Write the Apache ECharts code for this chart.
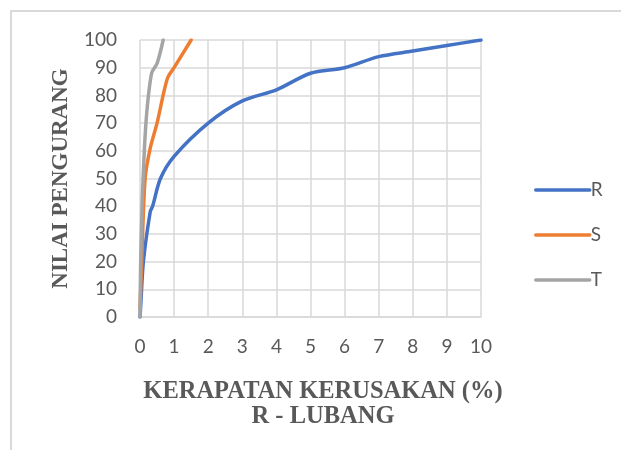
<!DOCTYPE html>
<html>
<head>
<meta charset="utf-8">
<script src="https://cdn.jsdelivr.net/npm/echarts@6/dist/echarts.min.js"></script>
<style>html,body{margin:0;padding:0;background:#fff;}#c{width:621px;height:450px;}</style>
</head>
<body>
<div id="c"></div>
<script>
const seriesNames = ['R', 'S', 'T'];
const dataR = [[0,0],[0.02,4],[0.1,20],[0.3,38],[0.37,40],[0.6,50],[1,58],[2,70],[3,78],[4,82],[5,88],[6,90],[7,94],[8,96],[9,98],[10,100]];
const dataS = [[0,3],[0.05,20],[0.15,50],[0.3,61],[0.5,70],[0.8,86],[1,90],[1.5,100]];
const dataT = [[0,0],[0.02,20],[0.05,35],[0.08,47],[0.18,71],[0.34,88],[0.5,91.5],[0.68,100]];
const xTicks = {min: 0, max: 10, interval: 1};
const yTicks = {min: 0, max: 100, interval: 10};
const xTitle = 'KERAPATAN KERUSAKAN (%)\nR - LUBANG';
const yTitle = 'NILAI PENGURANG';
const colors = ['#4472C4', '#ED7D31', '#A5A5A5'];

const chart = echarts.init(document.getElementById('c'), null, {renderer: 'canvas'});
const tickFont = {fontFamily: 'Lato, "Open Sans", sans-serif', fontSize: 19, color: '#595959'};
const titleFont = {fontFamily: '"Liberation Serif", "Times New Roman", serif', fontWeight: 'bold', fontSize: 23, color: '#595959'};
const datas = [dataR, dataS, dataT];
chart.setOption({
  animation: false,
  color: colors,
  grid: {left: 140, right: 140, top: 40, bottom: 133},
  graphic: [
    {type: 'rect', z: 100, silent: true, shape: {x: 11, y: 11, width: 640, height: 470},
     style: {fill: 'transparent', stroke: '#d9d9d9', lineWidth: 2}},
    {type: 'text', x: 323, y: 379, silent: true,
     style: {text: xTitle, align: 'center', verticalAlign: 'top', fontFamily: titleFont.fontFamily, fontWeight: 'bold', fontSize: 24.5, lineHeight: 25, fill: '#595959'}}
  ],
  legend: {
    orient: 'vertical', left: 529, top: 175, itemWidth: 54, itemHeight: 20, itemGap: 25,
    data: seriesNames,
    itemStyle: {opacity: 0},
    lineStyle: {width: 3.5},
    textStyle: {fontFamily: tickFont.fontFamily, fontSize: 19, lineHeight: 20, color: '#595959', padding: [0,0,0,-4]}
  },
  xAxis: {
    type: 'value', min: xTicks.min, max: xTicks.max, interval: xTicks.interval,
    axisLine: {show: true, lineStyle: {color: '#d9d9d9', width: 1.5}},
    axisTick: {show: false},
    splitLine: {show: true, lineStyle: {color: '#d9d9d9', width: 1.5}},
    axisLabel: Object.assign({margin: 20}, tickFont)
  },
  yAxis: {
    type: 'value', min: yTicks.min, max: yTicks.max, interval: yTicks.interval,
    name: yTitle, nameLocation: 'middle', nameGap: 64, nameRotate: 90,
    nameTextStyle: titleFont,
    axisLine: {show: false},
    axisTick: {show: false},
    splitLine: {show: true, lineStyle: {color: '#d9d9d9', width: 1.5}},
    axisLabel: Object.assign({margin: 23}, tickFont)
  },
  series: seriesNames.map((n, i) => ({
    name: n, type: 'line', data: datas[i], showSymbol: false, symbol: 'none',
    smooth: 0.3, clip: true,
    lineStyle: {width: 3.5, color: colors[i], cap: 'round', join: 'round'}
  }))
});
</script>
</body>
</html>
